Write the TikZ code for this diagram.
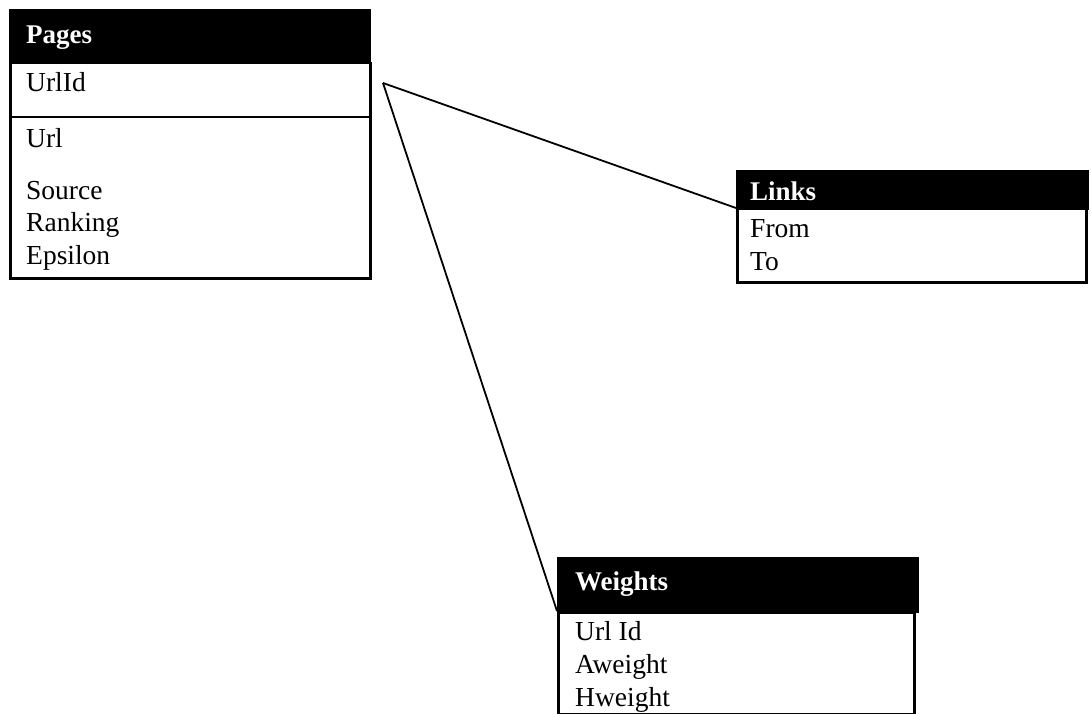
\documentclass[tikz,border=0pt]{standalone}
\usepackage{fontspec}
\setmainfont{Liberation Serif}
\begin{document}
\begin{tikzpicture}[x=1pt,y=-1pt,
  hdr/.style={fill=black,draw=black,line width=1.5pt,inner sep=0pt,anchor=north west},
  body/.style={fill=white,draw=black,line width=2.5pt,inner sep=0pt,anchor=north west},
  field/.style={anchor=base west,inner sep=0pt,font=\fontsize{27.5}{32}\selectfont},
  title/.style={anchor=base west,inner sep=0pt,text=white,font=\fontsize{27}{32}\selectfont\bfseries},
  conn/.style={draw=black,line width=1.8pt}]
\useasboundingbox (0,0) rectangle (1092,714);
% Pages
\node[hdr,minimum width=360pt,minimum height=53pt] (pagesH) at (9,9) {};
\node[body,minimum width=360pt,minimum height=215pt] (pagesB) at (9,62) {};
\draw[line width=2.5pt] (pagesB.west |- 0,117) -- (pagesB.east |- 0,117);
\node[title] (tPages) at (26,44) {Pages};
\node[field] (fUrlId) at (26,92) {UrlId};
\node[field] (fUrl) at (26,148) {Url};
\node[field] (fSource) at (26,200) {Source};
\node[field] (fRanking) at (26,232) {Ranking};
\node[field] (fEpsilon) at (26,264) {Epsilon};
% Links
\node[hdr,minimum width=351pt,minimum height=39pt] (linksH) at (736,170) {};
\node[body,minimum width=349pt,minimum height=73pt] (linksB) at (736,208) {};
\node[title] (tLinks) at (750,201) {Links};
\node[field] (fFrom) at (750,237) {From};
\node[field] (fTo) at (750,270) {To};
% Weights
\node[hdr,minimum width=360pt,minimum height=54pt] (weightsH) at (557,557) {};
\node[body,minimum width=356pt,minimum height=102pt] (weightsB) at (557,611) {};
\node[title] (tWeights) at (575,590) {Weights};
\node[field] (fUrlId2) at (575,640) {Url Id};
\node[field] (fAweight) at (575,673) {Aweight};
\node[field] (fHweight) at (575,706) {Hweight};
% connectors
\coordinate (j) at (383,83);
\draw[conn] (j) -- (linksB.north west);
\draw[conn] (j) -- (weightsB.north west);
\end{tikzpicture}
\end{document}
